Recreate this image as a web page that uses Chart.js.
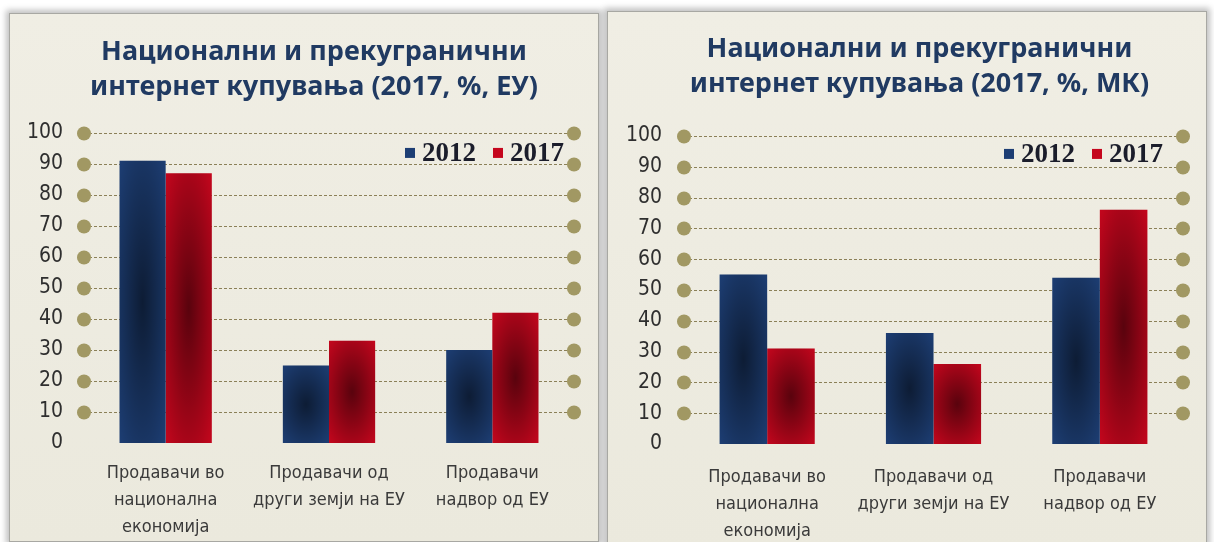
<!DOCTYPE html>
<html>
<head>
<meta charset="utf-8">
<script src="https://cdn.jsdelivr.net/npm/chart.js@4.4.1/dist/chart.umd.min.js"></script>
<style>
  body { margin: 0; background: #fff; width: 1214px; height: 542px; overflow: hidden; position: relative; }
  .panel {
    position: absolute;
    background: linear-gradient(#f0eee4, #ebe9dd);
    border: 1px solid #a8a8a3;
    box-shadow: 0 0 6px 3px rgba(0, 0, 0, 0.25);
  }
  #p1 { left: 9px; top: 13px; width: 588px; height: 527px; }
  #p2 { left: 607px; top: 11px; width: 598px; height: 540px; }
  canvas { display: block; }
</style>
</head>
<body>
<div class="panel" id="p1"><canvas id="euChart" width="588" height="527"></canvas></div>
<div class="panel" id="p2"><canvas id="mkChart" width="598" height="540"></canvas></div>

<script>
const categories = [
  ["Продавачи во", "национална", "економија"],
  ["Продавачи од", "други земји на ЕУ"],
  ["Продавачи", "надвор од ЕУ"]
];
const seriesNames = ["2012", "2017"];
const euValues2012 = [91, 25, 30];
const euValues2017 = [87, 33, 42];
const mkValues2012 = [55, 36, 54];
const mkValues2017 = [31, 26, 76];
const yTickMin = 0;
const yTickMax = 100;
const yTickStep = 10;

const euTitle = ["Национални и прекугранични", "интернет купувања (2017, %, ЕУ)"];
const mkTitle = ["Национални и прекугранични", "интернет купувања (2017, %, МК)"];

const navy = "#1d3e74";
const red = "#c5061d";
const labelFont = "'DejaVu Sans Condensed', 'DejaVu Sans', sans-serif";

// dashed grid with round olive markers at both ends of each line
const dottedGrid = {
  id: "dottedGrid",
  beforeDatasetsDraw(chart) {
    const { ctx, chartArea, scales } = chart;
    ctx.save();
    scales.y.ticks.forEach(t => {
      if (t.value === 0) return;
      const y = Math.round(scales.y.getPixelForValue(t.value)) + 0.5;
      ctx.strokeStyle = "#8b8058";
      ctx.lineWidth = 1;
      ctx.setLineDash([3, 2]);
      ctx.beginPath();
      ctx.moveTo(chartArea.left, y);
      ctx.lineTo(chartArea.right, y);
      ctx.stroke();
      ctx.setLineDash([]);
      ctx.fillStyle = "#a19863";
      [chartArea.left, chartArea.right].forEach(x => {
        ctx.beginPath();
        ctx.arc(x, y, 7, 0, Math.PI * 2);
        ctx.fill();
      });
    });
    ctx.restore();
  }
};

// darker glow in the middle of each bar
const barShade = {
  id: "barShade",
  afterDatasetsDraw(chart) {
    const ctx = chart.ctx;
    chart.data.datasets.forEach((ds, i) => {
      chart.getDatasetMeta(i).data.forEach(bar => {
        const w = bar.width;
        const top = Math.min(bar.y, bar.base);
        const h = Math.abs(bar.base - bar.y);
        const cx = bar.x, cy = top + h / 2;
        ctx.save();
        ctx.beginPath();
        ctx.rect(cx - w / 2, top, w, h);
        ctx.clip();
        ctx.translate(cx, cy);
        ctx.scale(1, Math.max(h / w, 1) * 0.9);
        const g = ctx.createRadialGradient(0, 0, 0, 0, 0, w * 0.75);
        g.addColorStop(0, "rgba(0,0,0,0.55)");
        g.addColorStop(0.6, "rgba(0,0,0,0.22)");
        g.addColorStop(1, "rgba(0,0,0,0)");
        ctx.fillStyle = g;
        ctx.fillRect(-w, -h, w * 2, h * 2);
        ctx.restore();
      });
    });
  }
};

// legend inside the plot, top right
const cornerLegend = {
  id: "cornerLegend",
  afterDraw(chart, args, opts) {
    const { ctx, chartArea } = chart;
    ctx.save();
    ctx.font = "bold 27px 'Liberation Serif', serif";
    ctx.textBaseline = "alphabetic";
    const sq = 10, gap = 7, between = 17;
    const items = chart.data.datasets.map(ds => ({ text: ds.label, color: ds.backgroundColor }));
    let total = 0;
    items.forEach((it, i) => {
      it.w = ctx.measureText(it.text).width;
      total += sq + gap + it.w + (i < items.length - 1 ? between : 0);
    });
    let x = chartArea.right - opts.right - total;
    const base = chartArea.top + opts.baseline;
    items.forEach(it => {
      ctx.fillStyle = it.color;
      ctx.fillRect(x, base - 13, sq, 10);
      x += sq + gap;
      ctx.fillStyle = "#1b1d2b";
      ctx.fillText(it.text, x, base);
      x += it.w + between;
    });
    ctx.restore();
  }
};

// title sits a little right of the panel centre
const titleNudge = {
  id: "titleNudge",
  afterLayout(chart, args, opts) {
    if (chart.titleBlock) chart.titleBlock.left += opts.shift;
  }
};

function buildChart(id, title, v2012, v2017, lay) {
  return new Chart(document.getElementById(id), {
    type: "bar",
    data: {
      labels: categories,
      datasets: [
        { label: seriesNames[0], data: v2012, backgroundColor: navy },
        { label: seriesNames[1], data: v2017, backgroundColor: red }
      ]
    },
    plugins: [dottedGrid, barShade, cornerLegend, titleNudge],
    options: {
      responsive: false,
      animation: false,
      devicePixelRatio: 1,
      layout: { padding: { left: 0, right: lay.right, top: 0, bottom: 0 } },
      datasets: { bar: { categoryPercentage: lay.catPct, barPercentage: 1 } },
      plugins: {
        legend: { display: false },
        tooltip: { enabled: false },
        title: {
          display: true,
          text: title,
          color: "#203a62",
          font: { family: "'Noto Sans', sans-serif", weight: "bold", size: 27, lineHeight: 1.28 },
          padding: { top: lay.titleTop, bottom: lay.titleBottom }
        },
        cornerLegend: { right: lay.legendRight, baseline: lay.legendBase },
        titleNudge: { shift: lay.titleShift }
      },
      scales: {
        x: {
          grid: { display: false },
          border: { display: false },
          afterFit(s) { s.height = lay.xHeight; },
          ticks: {
            color: "#3a3a3a",
            padding: lay.xPad,
            maxRotation: 0,
            font: { family: labelFont, size: 18, lineHeight: 1.5 }
          }
        },
        y: {
          min: yTickMin,
          max: yTickMax,
          grid: { display: false, drawTicks: false },
          border: { display: false },
          afterFit(s) { s.width = lay.yWidth; },
          ticks: {
            stepSize: yTickStep,
            color: "#2e2e2e",
            padding: lay.yPad,
            font: { family: labelFont, size: 21 }
          }
        }
      }
    }
  });
}

buildChart("euChart", euTitle, euValues2012, euValues2017, {
  right: 24, catPct: 0.565, titleTop: 21, titleBottom: 28.8, titleShift: 44,
  xHeight: 98, xPad: 9, yWidth: 74, yPad: 21, legendRight: 10, legendBase: 28
});
buildChart("mkChart", mkTitle, mkValues2012, mkValues2017, {
  right: 23, catPct: 0.572, titleTop: 20, titleBottom: 34.8, titleShift: 48,
  xHeight: 108, xPad: 12, yWidth: 76, yPad: 22, legendRight: 20, legendBase: 26
});
</script>
</body>
</html>
